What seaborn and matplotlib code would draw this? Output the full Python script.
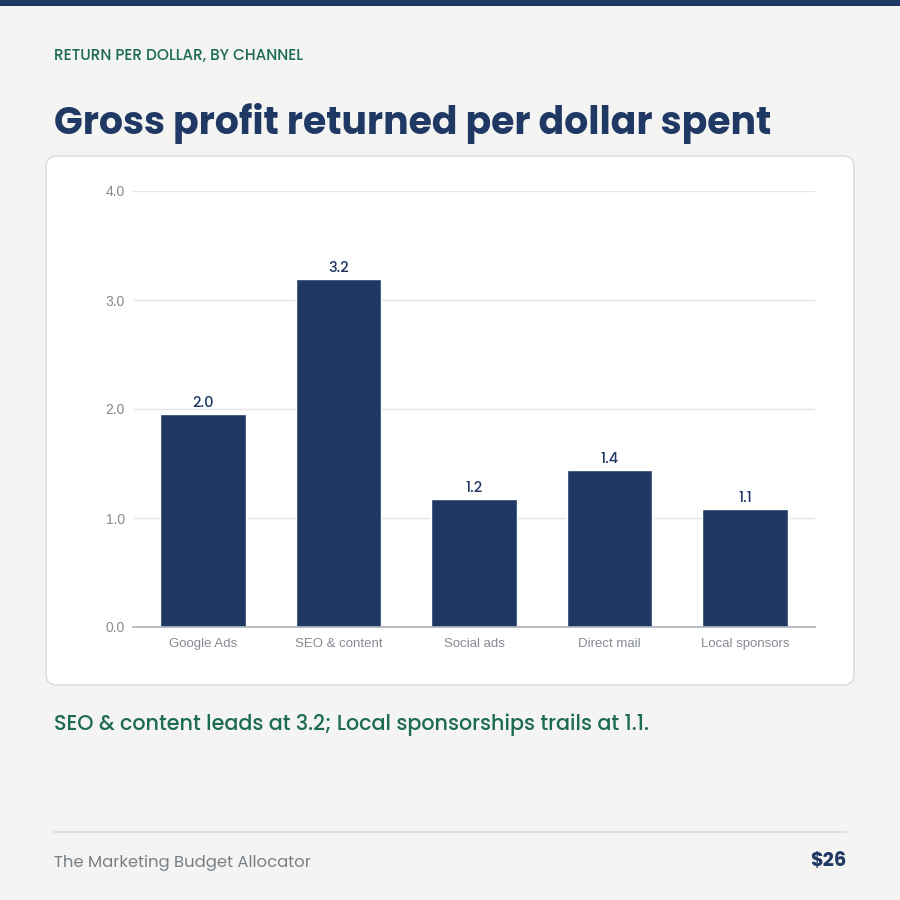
import matplotlib
matplotlib.use("Agg")
import matplotlib.pyplot as plt
import seaborn as sns
import pandas as pd
from matplotlib.patches import FancyBboxPatch, Rectangle
from matplotlib.lines import Line2D

channels = ["Google Ads", "SEO & content", "Social ads", "Direct mail", "Local sponsors"]
returns = [1.95, 3.19, 1.17, 1.44, 1.08]
value_labels = ["2.0", "3.2", "1.2", "1.4", "1.1"]
yticks = [0.0, 1.0, 2.0, 3.0, 4.0]

eyebrow = "RETURN PER DOLLAR, BY CHANNEL"
title = "Gross profit returned per dollar spent"
insight = "SEO & content leads at 3.2; Local sponsorships trails at 1.1."
footer_left = "The Marketing Budget Allocator"
footer_right = "$26"

BG = "#f4f5f2"
NAVY = "#1f3864"
GREEN = "#1d6b53"
GRAY = "#7a7f87"
TICK = "#858a91"

sns.set_theme(style="white")
plt.rcParams['font.family'] = ['Liberation Sans', 'DejaVu Sans']

W = H = 900
fig = plt.figure(figsize=(9, 9), dpi=100, facecolor=BG)

def fx(px): return px / W
def fy(py): return 1 - py / H

# top bar
fig.patches.append(Rectangle((0, fy(6)), 1, 6 / H, transform=fig.transFigure,
                             facecolor=NAVY, edgecolor="none", zorder=-1))
# card
fig.patches.append(FancyBboxPatch((fx(46), fy(685)), fx(854) - fx(46), fy(156) - fy(685),
                                  boxstyle="round,pad=0,rounding_size=0.012",
                                  transform=fig.transFigure, facecolor="white",
                                  edgecolor="#d9dbd8", linewidth=1.0, zorder=-1))

renderer = fig.canvas.get_renderer()

def fit_text(x, y, s, target_w, size0, **kw):
    t = fig.text(fx(x), fy(y), s, fontsize=size0, **kw)
    w = t.get_window_extent(renderer=renderer).width
    t.set_fontsize(size0 * target_w / w)
    return t

fit_text(54, 56, eyebrow, 249, 11, family=['Poppins', 'Lato', 'DejaVu Sans'],
         weight="medium", color=GREEN, va="center", ha="left")
fit_text(54, 124, title, 718, 28, family=['Poppins', 'Inter', 'DejaVu Sans'],
         weight="bold", color=NAVY, va="center", ha="left")
fit_text(54, 725, insight, 596, 15, family=['Poppins', 'Lato', 'DejaVu Sans'],
         weight="medium", color=GREEN, va="center", ha="left")
fit_text(54, 863, footer_left, 257, 12, family=['Poppins', 'Lato', 'DejaVu Sans'],
         color=GRAY, va="center", ha="left")
fit_text(846, 862, footer_right, 36, 14, family=['Poppins', 'Inter', 'DejaVu Sans'],
         weight="bold", color=NAVY, va="center", ha="right")
fig.lines.append(Line2D([fx(54), fx(846)], [fy(832), fy(832)], transform=fig.transFigure,
                        color="#d9dbd8", linewidth=1.2))

# axes
ax = fig.add_axes([fx(133), fy(627), fx(815) - fx(133), fy(191) - fy(627)])
ax.set_zorder(2)
ax.set_facecolor("white")
df = pd.DataFrame({"channel": channels, "ret": returns})
sns.barplot(data=df, x="channel", y="ret", color=NAVY, saturation=1, width=0.63, ax=ax, zorder=3)
ax.set_xlim(-0.515, 4.515)
ax.set_ylim(0, 4.0)
ax.set_yticks(yticks)
ax.set_yticklabels([f"{v:.1f}" for v in yticks])
ax.set_xlabel("")
ax.set_ylabel("")
for s in ["top", "right", "left"]:
    ax.spines[s].set_visible(False)
ax.spines["bottom"].set_color("#aab4bc")
ax.spines["bottom"].set_linewidth(1.2)
ax.spines["bottom"].set_zorder(4)
ax.grid(axis="y", color="#e3e5e6", linewidth=1.0, zorder=0)
ax.set_axisbelow(True)
ax.tick_params(axis="both", length=0, labelcolor=TICK)
ax.tick_params(axis="y", pad=6, labelsize=10)
ax.tick_params(axis="x", pad=8, labelsize=9.5)
for i, (v, lab) in enumerate(zip(returns, value_labels)):
    ax.annotate(lab, (i, v), xytext=(0, 2.5), textcoords="offset points", ha="center", va="bottom",
                fontsize=10.5, color=NAVY, weight="medium", family=['Poppins', 'Lato', 'DejaVu Sans'])

fig.savefig("out.png", dpi=100, facecolor=BG)
